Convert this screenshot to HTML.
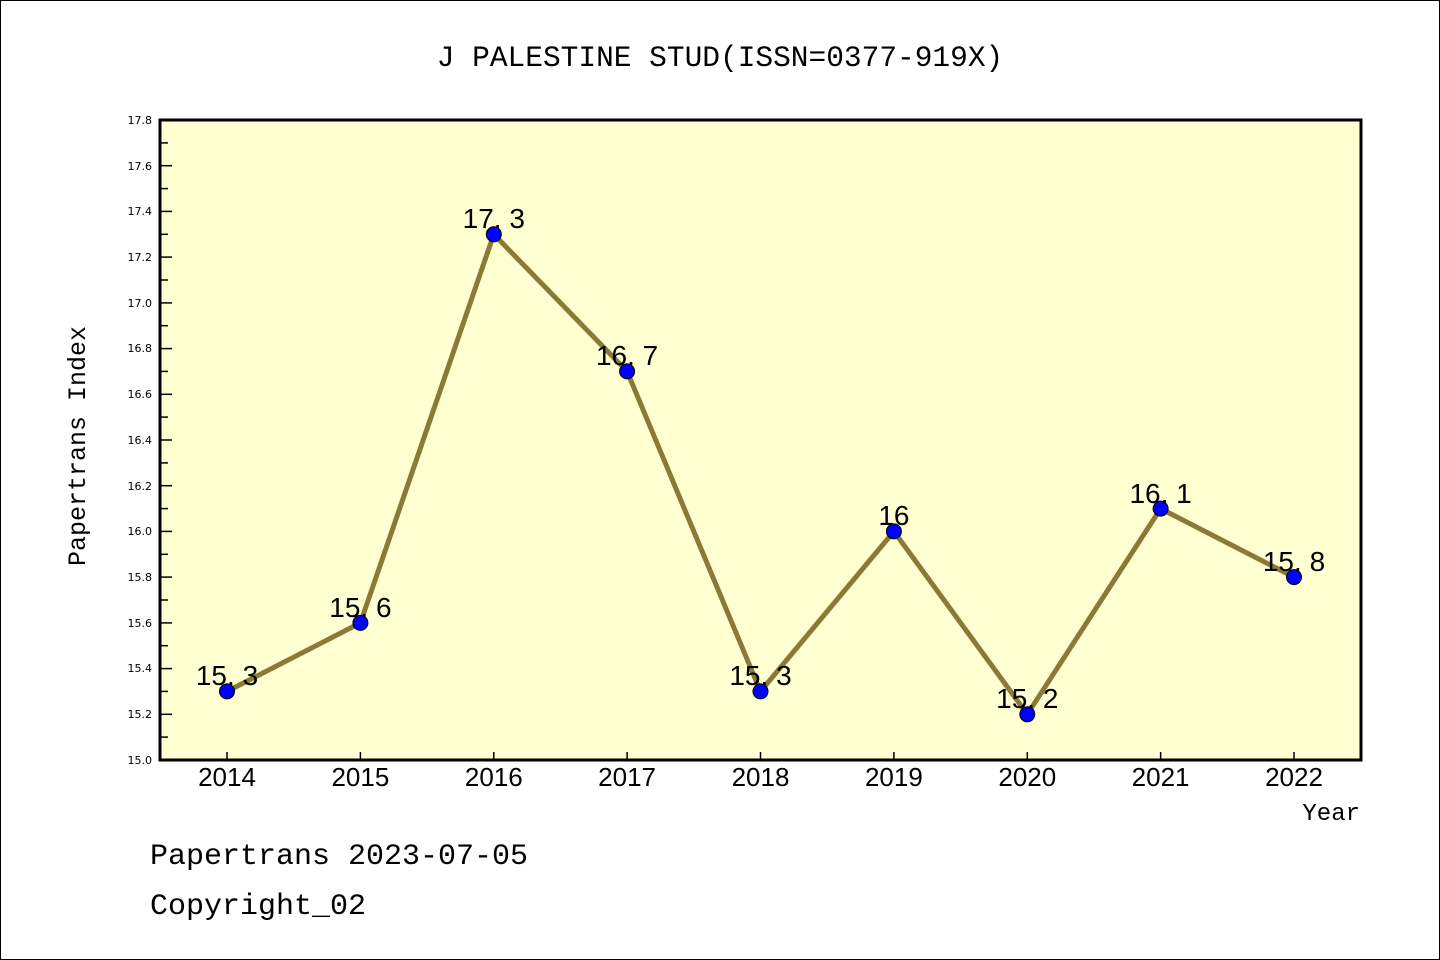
<!DOCTYPE html>
<html><head><style>
html,body{margin:0;padding:0;background:#fff;}
svg{display:block;}
.m{font-family:"Liberation Mono","DejaVu Sans Mono",monospace;}
.s{font-family:"Liberation Sans",sans-serif;}
.d{font-family:"DejaVu Sans",sans-serif;}
</style></head><body>
<svg width="1440" height="960" viewBox="0 0 1440 960" xmlns="http://www.w3.org/2000/svg">
<rect x="0.5" y="0.5" width="1439" height="959" fill="#fff" stroke="#000" stroke-width="1"/>
<text class="m" x="720" y="66" font-size="29.5" text-anchor="middle" fill="#000">J PALESTINE STUD(ISSN=0377-919X)</text>
<rect x="160" y="120" width="1201" height="640" fill="#ffffd2" stroke="#000" stroke-width="3"/>
<g stroke="#000" stroke-width="1.5">
<line x1="160" y1="737.1" x2="168" y2="737.1"/><line x1="160" y1="714.3" x2="172" y2="714.3"/>
<line x1="160" y1="691.4" x2="168" y2="691.4"/><line x1="160" y1="668.6" x2="172" y2="668.6"/>
<line x1="160" y1="645.7" x2="168" y2="645.7"/><line x1="160" y1="622.9" x2="172" y2="622.9"/>
<line x1="160" y1="600" x2="168" y2="600"/><line x1="160" y1="577.1" x2="172" y2="577.1"/>
<line x1="160" y1="554.3" x2="168" y2="554.3"/><line x1="160" y1="531.4" x2="172" y2="531.4"/>
<line x1="160" y1="508.6" x2="168" y2="508.6"/><line x1="160" y1="485.7" x2="172" y2="485.7"/>
<line x1="160" y1="462.9" x2="168" y2="462.9"/><line x1="160" y1="440" x2="172" y2="440"/>
<line x1="160" y1="417.1" x2="168" y2="417.1"/><line x1="160" y1="394.3" x2="172" y2="394.3"/>
<line x1="160" y1="371.4" x2="168" y2="371.4"/><line x1="160" y1="348.6" x2="172" y2="348.6"/>
<line x1="160" y1="325.7" x2="168" y2="325.7"/><line x1="160" y1="302.9" x2="172" y2="302.9"/>
<line x1="160" y1="280" x2="168" y2="280"/><line x1="160" y1="257.1" x2="172" y2="257.1"/>
<line x1="160" y1="234.3" x2="168" y2="234.3"/><line x1="160" y1="211.4" x2="172" y2="211.4"/>
<line x1="160" y1="188.6" x2="168" y2="188.6"/><line x1="160" y1="165.7" x2="172" y2="165.7"/>
<line x1="160" y1="142.9" x2="168" y2="142.9"/>
<line x1="227" y1="760" x2="227" y2="752"/><line x1="360.4" y1="760" x2="360.4" y2="752"/>
<line x1="493.8" y1="760" x2="493.8" y2="752"/><line x1="627.1" y1="760" x2="627.1" y2="752"/>
<line x1="760.5" y1="760" x2="760.5" y2="752"/><line x1="893.9" y1="760" x2="893.9" y2="752"/>
<line x1="1027.3" y1="760" x2="1027.3" y2="752"/><line x1="1160.6" y1="760" x2="1160.6" y2="752"/>
<line x1="1294" y1="760" x2="1294" y2="752"/>
</g>
<g class="d" font-size="11" text-anchor="end" fill="#000">
<text x="152" y="764">15.0</text><text x="152" y="718">15.2</text><text x="152" y="672">15.4</text>
<text x="152" y="627">15.6</text><text x="152" y="581">15.8</text><text x="152" y="535">16.0</text>
<text x="152" y="490">16.2</text><text x="152" y="444">16.4</text><text x="152" y="398">16.6</text>
<text x="152" y="352">16.8</text><text x="152" y="307">17.0</text><text x="152" y="261">17.2</text>
<text x="152" y="215">17.4</text><text x="152" y="170">17.6</text><text x="152" y="124">17.8</text>
</g>
<g class="s" font-size="26" text-anchor="middle" fill="#000">
<text x="227" y="786">2014</text><text x="360.4" y="786">2015</text><text x="493.8" y="786">2016</text>
<text x="627.1" y="786">2017</text><text x="760.5" y="786">2018</text><text x="893.9" y="786">2019</text>
<text x="1027.3" y="786">2020</text><text x="1160.6" y="786">2021</text><text x="1294" y="786">2022</text>
</g>
<text class="m" x="1360" y="820" font-size="24" text-anchor="end">Year</text>
<text class="m" transform="translate(85,446) rotate(-90)" font-size="25" text-anchor="middle">Papertrans Index</text>
<polyline fill="none" stroke="#8b7a36" stroke-width="5" points="227,691.4 360.4,622.9 493.8,234.3 627.1,371.4 760.5,691.4 893.9,531.4 1027.3,714.3 1160.6,508.6 1294,577.1"/>
<g fill="#0000ff" stroke="#000" stroke-width="1">
<circle cx="227" cy="691.4" r="7.5"/><circle cx="360.4" cy="622.9" r="7.5"/><circle cx="493.8" cy="234.3" r="7.5"/>
<circle cx="627.1" cy="371.4" r="7.5"/><circle cx="760.5" cy="691.4" r="7.5"/><circle cx="893.9" cy="531.4" r="7.5"/>
<circle cx="1027.3" cy="714.3" r="7.5"/><circle cx="1160.6" cy="508.6" r="7.5"/><circle cx="1294" cy="577.1" r="7.5"/>
</g>
<g class="s" font-size="28" text-anchor="middle" fill="#000">
<text x="227" y="685">15. 3</text><text x="360.4" y="617">15. 6</text><text x="493.8" y="228">17. 3</text>
<text x="627.1" y="365">16. 7</text><text x="760.5" y="685">15. 3</text><text x="893.9" y="525">16</text>
<text x="1027.3" y="708">15. 2</text><text x="1160.6" y="503">16. 1</text><text x="1294" y="571">15. 8</text>
</g>
<text class="m" x="150" y="864" font-size="30">Papertrans 2023-07-05</text>
<text class="m" x="150" y="914" font-size="30">Copyright_02</text>
</svg>
</body></html>
